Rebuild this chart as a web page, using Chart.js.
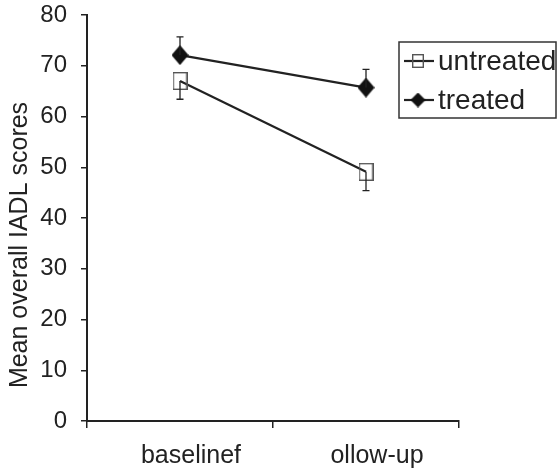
<!DOCTYPE html>
<html>
<head>
<meta charset="utf-8">
<script src="https://cdn.jsdelivr.net/npm/chart.js@4.4.1/dist/chart.umd.min.js"></script>
<style>
  html, body { margin: 0; padding: 0; background: #fff; }
  #wrap { width: 558px; height: 469px; position: relative; }
</style>
</head>
<body>
<div id="wrap"><canvas id="chart" width="558" height="469"></canvas></div>
<script>
// data
const categories = ["baselinef", "ollow-up"];
const untreated = [67.0, 49.1];
const treated = [72.1, 65.7];
const untreatedErrDown = [3.6, 3.7];
const treatedErrUp = [3.6, 3.6];
const yTicks = [0, 10, 20, 30, 40, 50, 60, 70, 80];
const yTitle = "Mean overall IADL scores";

const INK = "#222";
const FONT = "'Liberation Sans', Arial, Helvetica, sans-serif";

// marker images
function makeSquare(w, h) {
  const c = document.createElement("canvas");
  c.width = w; c.height = h;
  const g = c.getContext("2d");
  g.strokeStyle = "#555";
  g.lineWidth = 1.4;
  g.strokeRect(0.7, 0.7, w - 1.4, h - 1.4);
  return c;
}
function makeDiamond(w, h) {
  const c = document.createElement("canvas");
  c.width = w; c.height = h;
  const g = c.getContext("2d");
  g.fillStyle = "#111";
  g.beginPath();
  g.moveTo(w / 2, 0);
  g.lineTo(w, h / 2);
  g.lineTo(w / 2, h);
  g.lineTo(0, h / 2);
  g.closePath();
  g.fill();
  return c;
}
const sqBig = makeSquare(15, 18);
const dmBig = makeDiamond(17, 20);
const sqSmall = makeSquare(12, 14);
const dmSmall = makeDiamond(15, 15);

// error bars drawn through the y scale
const errorBars = {
  id: "errorBars",
  afterDatasetsDraw(chart) {
    const ctx = chart.ctx;
    const ys = chart.scales.y;
    ctx.save();
    ctx.strokeStyle = INK;
    ctx.lineWidth = 1.3;
    chart.data.datasets.forEach((ds, di) => {
      const meta = chart.getDatasetMeta(di);
      meta.data.forEach((pt, i) => {
        const v = ds.data[i];
        const end = ds.errDir > 0 ? v + ds.err[i] : v - ds.err[i];
        const y0 = ys.getPixelForValue(v);
        const y1 = ys.getPixelForValue(end);
        ctx.beginPath();
        ctx.moveTo(pt.x, y0);
        ctx.lineTo(pt.x, y1);
        ctx.moveTo(pt.x - 3.5, y1);
        ctx.lineTo(pt.x + 3.5, y1);
        ctx.stroke();
      });
    });
    ctx.restore();
  },
};

// y title sits a bit below the plot middle in the original
const sideTitle = {
  id: "sideTitle",
  afterDraw(chart) {
    const ctx = chart.ctx;
    ctx.save();
    ctx.translate(20, 245);
    ctx.rotate(-Math.PI / 2);
    ctx.fillStyle = INK;
    ctx.font = "25px " + FONT;
    ctx.textAlign = "center";
    ctx.textBaseline = "middle";
    ctx.fillText(yTitle, 0, 0);
    ctx.restore();
  },
};

// legend box with line + marker samples
const boxLegend = {
  id: "boxLegend",
  afterDraw(chart) {
    const ctx = chart.ctx;
    ctx.save();
    ctx.strokeStyle = "#333";
    ctx.lineWidth = 1.5;
    ctx.strokeRect(399, 42, 157, 76);
    const rows = [
      { label: "untreated", y: 61, img: sqSmall },
      { label: "treated", y: 100, img: dmSmall },
    ];
    rows.forEach((r) => {
      ctx.strokeStyle = INK;
      ctx.lineWidth = 2.2;
      ctx.beginPath();
      ctx.moveTo(404, r.y);
      ctx.lineTo(434, r.y);
      ctx.stroke();
      ctx.drawImage(r.img, 418 - r.img.width / 2, r.y - r.img.height / 2);
      ctx.fillStyle = INK;
      ctx.font = "28px " + FONT;
      ctx.textBaseline = "middle";
      ctx.textAlign = "left";
      ctx.fillText(r.label, 438, r.y + 1);
    });
    ctx.restore();
  },
};

new Chart(document.getElementById("chart"), {
  type: "line",
  data: {
    labels: categories,
    datasets: [
      {
        label: "untreated",
        data: untreated,
        err: untreatedErrDown,
        errDir: -1,
        borderColor: INK,
        borderWidth: 2.2,
        pointStyle: sqBig,
        pointRadius: 9,
        tension: 0,
      },
      {
        label: "treated",
        data: treated,
        err: treatedErrUp,
        errDir: 1,
        borderColor: INK,
        borderWidth: 2.2,
        pointStyle: dmBig,
        pointRadius: 9,
        tension: 0,
      },
    ],
  },
  options: {
    responsive: false,
    animation: false,
    events: [],
    layout: { padding: { top: 15, right: 99, left: 0, bottom: 0 } },
    plugins: { legend: { display: false }, tooltip: { enabled: false } },
    scales: {
      x: {
        type: "category",
        offset: true,
        afterFit: (s) => { s.height = 48; },
        grid: { offset: true, drawOnChartArea: false, color: INK, lineWidth: 1.5, tickLength: 7 },
        border: { display: true, color: INK, width: 2 },
        ticks: { color: INK, font: { family: FONT, size: 25 }, padding: 13, labelOffset: 11, maxRotation: 0 },
      },
      y: {
        min: 0,
        max: 80,
        // fixed axis box; top label may overhang the plot like the original
        afterFit: (s) => { s.width = 87; s.paddingTop = 0; },
        afterBuildTicks: (s) => { s.ticks = yTicks.map((v) => ({ value: v })); },
        grid: { drawOnChartArea: false, color: INK, lineWidth: 1.5, tickLength: 6 },
        border: { display: true, color: INK, width: 2 },
        ticks: { color: INK, font: { family: FONT, size: 24 }, padding: 14 },
      },
    },
  },
  plugins: [errorBars, sideTitle, boxLegend],
});
</script>
</body>
</html>
